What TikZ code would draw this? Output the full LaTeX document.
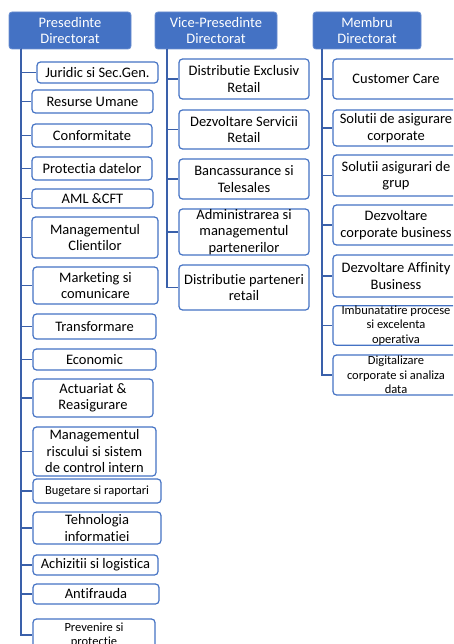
\documentclass[tikz,border=0pt]{standalone}
\usepackage{fontspec}
\setmainfont{Carlito}[Ligatures={NoCommon}]
\definecolor{hdrblue}{HTML}{4472C4}
\definecolor{linkblue}{HTML}{3A60AA}
\tikzset{
  x=1pt, y=-1pt,
  hdr/.style={draw=hdrblue!80!white, line width=0.8pt, fill=hdrblue, rounded corners=3pt, text=white,
    align=center, inner sep=0pt, font=\fontsize{14.5}{16}\selectfont},
  unit/.style={draw=hdrblue, line width=1.2pt, fill=white, rounded corners=3.5pt, text=black,
    align=center, inner sep=0pt, font=\fontsize{14.5}{16.5}\selectfont},
  small/.style={font=\fontsize{12.5}{14.5}\selectfont},
  link/.style={draw=linkblue, line width=1.8pt},
}
\newcommand{\ubox}[6]{\node[unit, minimum width=#3pt, minimum height=#4pt, #5] (#1) at (#2) {#6};}
\begin{document}
\begin{tikzpicture}
\useasboundingbox (0,0) rectangle (453,644);
\clip (0,0) rectangle (453,644);
% headers
\node[hdr, minimum width=122pt, minimum height=37pt] (h1) at (70,30.5) {Presedinte\\Directorat};
\node[hdr, minimum width=122pt, minimum height=37pt] (h2) at (216,30.5) {Vice-Presedinte\\Directorat};
\node[hdr, minimum width=108pt, minimum height=37pt] (h3) at (367,30.5) {Membru\\Directorat};
\coordinate (t1) at (21,49);
\coordinate (t2) at (167,49);
\coordinate (t3) at (322,49);
% left column
\ubox{a1}{97.5,72.5}{121}{21}{}{Juridic si Sec.Gen.}
\ubox{a2}{92.5,101.5}{121}{23}{}{Resurse Umane}
\ubox{a3}{92,135.5}{120}{23}{}{Conformitate}
\ubox{a4}{92,168.5}{120}{23}{}{Protectia datelor}
\ubox{a5}{92.5,198.5}{121}{19}{}{AML \&CFT}
\ubox{a6}{95,237.5}{126}{41}{}{Managementul\\Clientilor}
\ubox{a7}{95.5,285.5}{125}{37}{}{Marketing si\\comunicare}
\ubox{a8}{94.5,326.5}{123}{25}{}{Transformare}
\ubox{a9}{94.5,359.5}{123}{21}{}{Economic}
\ubox{a10}{93,398}{120}{38}{}{Actuariat \&\\Reasigurare}
\ubox{a11}{94.5,451.5}{123}{49}{}{Managementul\\riscului si sistem\\de control intern}
\ubox{a12}{97,491}{128}{24}{small}{Bugetare si raportari}
\ubox{a13}{97,528}{128}{32}{}{Tehnologia\\informatiei}
\ubox{a14}{95.5,565}{125}{20}{}{Achizitii si logistica}
\ubox{a15}{96,594}{126}{20}{}{Antifrauda}
\ubox{a16}{94,635}{122}{32}{small}{Prevenire si\\protectie}
% middle column
\ubox{b1}{244,79}{130}{40}{}{Distributie Exclusiv\\Retail}
\ubox{b2}{244,129.5}{130}{39}{}{Dezvoltare Servicii\\Retail}
\ubox{b3}{244,179}{130}{40}{}{Bancassurance si\\Telesales}
\ubox{b4}{244,232}{130}{46}{}{Administrarea si\\managementul\\partenerilor}
\ubox{b5}{244,287.5}{130}{45}{}{Distributie parteneri\\retail}
% right column
\ubox{c1}{396,79}{126}{40}{}{Customer Care}
\ubox{c2}{396,128}{126}{36}{}{Solutii de asigurare\\corporate}
\ubox{c3}{396,175.5}{126}{41}{}{Solutii asigurari de\\grup}
\ubox{c4}{396,225}{126}{40}{}{Dezvoltare\\corporate business}
\ubox{c5}{396,276}{126}{42}{}{Dezvoltare Affinity\\Business}
\ubox{c6}{396,325.5}{126}{39}{small}{Imbunatatire procese\\si excelenta\\operativa}
\ubox{c7}{396,375}{126}{40}{small}{Digitalizare\\corporate si analiza\\data}
% connectors
\foreach \n in {a1,a2,a3,a4,a5,a6,a7,a8,a9,a10,a11,a12,a13,a14,a15,a16}
  \draw[link] (t1) |- (\n.west);
\foreach \n in {b1,b2,b3,b4,b5}
  \draw[link] (t2) |- (\n.west);
\foreach \n in {c1,c2,c3,c4,c5,c6,c7}
  \draw[link] (t3) |- (\n.west);
\end{tikzpicture}
\end{document}
